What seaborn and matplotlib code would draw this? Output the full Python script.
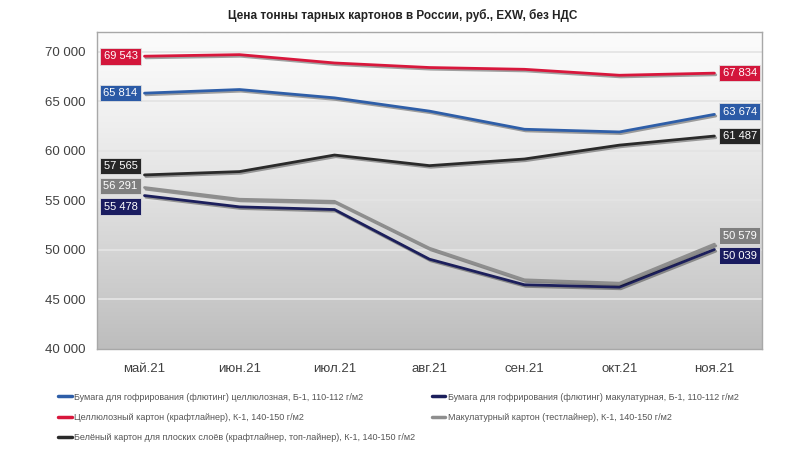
import numpy as np
import pandas as pd
import matplotlib
matplotlib.use("Agg")
import matplotlib.pyplot as plt
import matplotlib.patheffects as pe
from matplotlib.ticker import FuncFormatter
import seaborn as sns

months = ["май.21", "июн.21", "июл.21", "авг.21", "сен.21", "окт.21", "ноя.21"]

names = [
    "Бумага для гофрирования (флютинг) целлюлозная, Б-1, 110-112 г/м2",
    "Целлюлозный картон (крафтлайнер), К-1, 140-150 г/м2",
    "Белёный картон для плоских слоёв (крафтлайнер, топ-лайнер), К-1, 140-150 г/м2",
    "Бумага для гофрирования (флютинг) макулатурная, Б-1, 110-112 г/м2",
    "Макулатурный картон (тестлайнер), К-1, 140-150 г/м2",
]

fluting_cell = [65814, 66180, 65340, 64000, 62170, 61900, 63674]
kraftliner = [69543, 69700, 68860, 68400, 68220, 67620, 67834]
white_top = [57565, 57900, 59570, 58500, 59170, 60570, 61487]
fluting_recycled = [55478, 54340, 54070, 49060, 46480, 46240, 50039]
testliner = [56291, 55110, 54900, 50170, 46980, 46640, 50579]

series = [fluting_cell, kraftliner, white_top, fluting_recycled, testliner]
colors = ["#2e5ea8", "#d8173c", "#2a2a2a", "#1c1f5c", "#8e8e8e"]
box_colors = ["#2b5aa6", "#d3163b", "#262626", "#1a1c60", "#7f7f7f"]
# label offsets in points (start, end) to keep boxes from overlapping
start_dy = [0, 0, 6.5, -8, 1]
end_dy = [2, 0, 0, -4.5, 6]

rows = []
for name, vals in zip(names, series):
    for i, v in enumerate(vals):
        rows.append({"x": i, "value": v, "series": name})
df = pd.DataFrame(rows)

sns.set_style("white")
plt.rcParams["font.family"] = ["Liberation Sans Narrow", "Liberation Sans", "DejaVu Sans"]

fig = plt.figure(figsize=(8.05, 4.55), dpi=100)
ax = fig.add_axes([0.1205, 0.233, 0.826, 0.697])

ymin, ymax = 40000, 72000
xmin, xmax = -0.5, len(months) - 0.5

# gradient background like the Excel chart
grad = np.linspace(0, 1, 256).reshape(-1, 1) ** 1.3
cmap = matplotlib.colors.LinearSegmentedColormap.from_list("bg", ["#fbfbfb", "#bdbdbd"])
ax.imshow(grad, extent=[xmin, xmax, ymin, ymax], aspect="auto", cmap=cmap,
          zorder=0, origin="upper")

for y in range(45000, 72000, 5000):
    ax.axhline(y, color="#e4e4e4", lw=1.3, zorder=1)

sns.lineplot(data=df, x="x", y="value", hue="series", hue_order=names,
             palette=colors, linewidth=2, legend=False, ax=ax, zorder=3,
             path_effects=[pe.SimpleLineShadow(offset=(1, -1.2), alpha=0.35),
                           pe.Normal()])

def fmt(v, pos=None):
    return f"{int(v):,}".replace(",", " ")

for vals, bc, d0, d1 in zip(series, box_colors, start_dy, end_dy):
    box = dict(boxstyle="square,pad=0.3", fc=bc, ec="#e0e0e0", lw=0.6)
    ax.annotate(fmt(vals[0]), (0, vals[0]), xytext=(-5, d0), textcoords="offset points",
                ha="right", va="center", color="white", fontsize=8, bbox=box, zorder=5)
    ax.annotate(fmt(vals[-1]), (len(vals) - 1, vals[-1]), xytext=(6, d1),
                textcoords="offset points", ha="left", va="center", color="white",
                fontsize=8, bbox=box, zorder=5)

ax.set_xlim(xmin, xmax)
ax.set_ylim(ymin, ymax)
ax.set_xticks(range(len(months)))
ax.set_xticklabels(months)
ax.set_yticks(range(40000, 70001, 5000))
ax.yaxis.set_major_formatter(FuncFormatter(fmt))
ax.tick_params(axis="both", length=0, labelsize=9.5, colors="#404040", pad=8)
ax.tick_params(axis="x", pad=10)
ax.set_xlabel("")
ax.set_ylabel("")
for s in ax.spines.values():
    s.set_color("#a8a8a8")
    s.set_linewidth(1)

fig.text(0.5, 0.965, "Цена тонны тарных картонов в России, руб., EXW, без НДС",
         ha="center", va="center", fontsize=8.5, fontweight="bold", color="#222222")

handles = [plt.Line2D([], [], color=c, lw=2.5) for c in colors]
leg_kw = dict(frameon=False, fontsize=6.5, handlelength=1.5, handletextpad=0.3,
              labelspacing=1.25, labelcolor="#555555", loc="upper left")
fig.legend(handles[:3], names[:3], bbox_to_anchor=(0.062, 0.155), **leg_kw)
fig.legend(handles[3:], names[3:], bbox_to_anchor=(0.526, 0.155), **leg_kw)

fig.savefig("out.png", dpi=100)
